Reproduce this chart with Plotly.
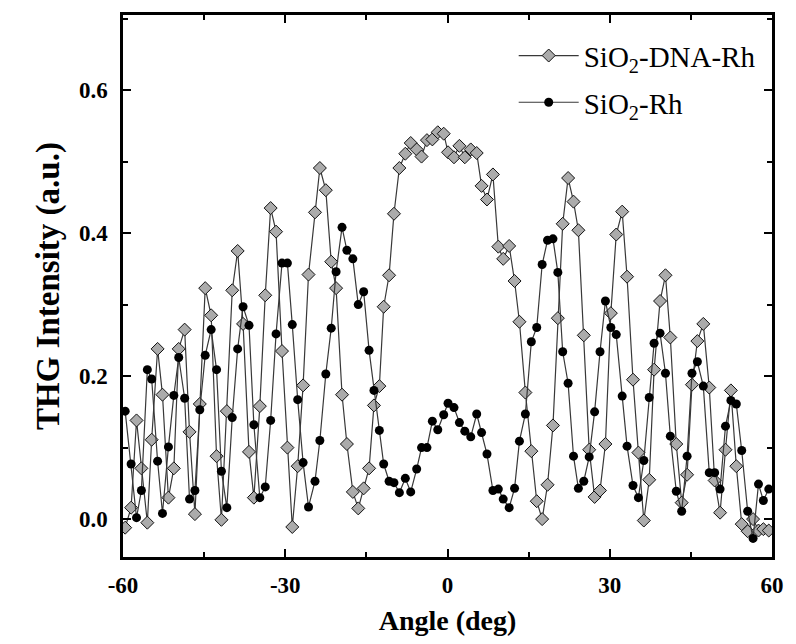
import plotly.graph_objects as go

# Detector angle (deg), shared by both samples
angle = [-59.6, -58.5, -57.5, -56.6, -55.5, -54.7, -53.6, -52.7, -51.6, -50.6,
         -49.7, -48.6, -47.7, -46.7, -45.8, -44.8, -43.7, -42.7, -41.8, -40.8,
         -39.8, -38.8, -37.8, -36.7, -35.8, -34.7, -33.7, -32.7, -31.7, -30.6,
         -29.6, -28.7, -27.7, -26.7, -25.7, -24.5, -23.6, -22.5, -21.5, -20.6,
         -19.5, -18.6, -17.5, -16.5, -15.5, -14.5, -13.6, -12.6, -11.8, -10.8,
         -9.9, -8.9, -7.8, -6.8, -5.7, -4.8, -3.8, -2.8, -1.8, -0.7,
         0.1, 1.2, 2.2, 3.2, 4.3, 5.4, 6.3, 7.3, 8.4, 9.4,
         10.3, 11.4, 12.4, 13.3, 14.4, 15.5, 16.5, 17.5, 18.5, 19.5,
         20.4, 21.3, 22.3, 23.3, 24.2, 25.2, 26.2, 27.2, 28.2, 29.2,
         30.2, 31.2, 32.3, 33.2, 34.3, 35.3, 36.3, 37.3, 38.2, 39.3,
         40.3, 41.2, 42.3, 43.3, 44.3, 45.2, 46.2, 47.3, 48.4, 49.4,
         50.4, 51.4, 52.4, 53.4, 54.4, 55.5, 56.5, 57.5, 58.4, 59.4]

# THG intensity, SiO2-DNA-Rh film
thg_dna = [-0.012, 0.016, 0.138, 0.071, -0.005, 0.111, 0.238, 0.174, 0.030, 0.071,
           0.238, 0.265, 0.122, 0.007, 0.161, 0.323, 0.285, 0.088, -0.001, 0.151,
           0.320, 0.375, 0.273, 0.094, 0.030, 0.158, 0.313, 0.435, 0.402, 0.235,
           0.100, -0.011, 0.074, 0.187, 0.342, 0.429, 0.491, 0.460, 0.360, 0.323,
           0.174, 0.105, 0.038, 0.015, 0.043, 0.071, 0.159, 0.186, 0.297, 0.341,
           0.427, 0.491, 0.511, 0.526, 0.517, 0.507, 0.530, 0.531, 0.541, 0.539,
           0.513, 0.506, 0.522, 0.506, 0.517, 0.512, 0.466, 0.447, 0.482, 0.381,
           0.364, 0.382, 0.333, 0.276, 0.177, 0.095, 0.025, 0.000, 0.048, 0.131,
           0.281, 0.413, 0.477, 0.444, 0.404, 0.257, 0.097, 0.031, 0.040, 0.105,
           0.288, 0.398, 0.430, 0.339, 0.195, 0.093, -0.002, 0.055, 0.209, 0.305,
           0.341, 0.254, 0.105, 0.023, 0.062, 0.188, 0.249, 0.273, 0.184, 0.054,
           0.009, 0.097, 0.180, 0.074, -0.007, -0.017, 0.000, -0.016, -0.014, -0.016]

# THG intensity, SiO2-Rh film
thg_rh = [0.151, 0.077, 0.002, 0.040, 0.209, 0.196, 0.081, 0.008, 0.101, 0.173,
          0.226, 0.169, 0.028, 0.040, 0.153, 0.229, 0.265, 0.209, 0.067, 0.016,
          0.142, 0.238, 0.297, 0.271, 0.132, 0.030, 0.045, 0.138, 0.259, 0.358,
          0.358, 0.272, 0.167, 0.079, 0.017, 0.053, 0.110, 0.203, 0.267, 0.346,
          0.408, 0.376, 0.364, 0.300, 0.318, 0.236, 0.180, 0.124, 0.077, 0.053,
          0.051, 0.037, 0.057, 0.038, 0.070, 0.100, 0.100, 0.137, 0.125, 0.146,
          0.162, 0.156, 0.135, 0.123, 0.115, 0.147, 0.121, 0.091, 0.040, 0.042,
          0.028, 0.016, 0.043, 0.109, 0.147, 0.248, 0.268, 0.356, 0.390, 0.392,
          0.345, 0.234, 0.190, 0.088, 0.043, 0.053, 0.087, 0.150, 0.234, 0.305,
          0.268, 0.258, 0.172, 0.102, 0.047, 0.030, 0.082, 0.170, 0.246, 0.260,
          0.204, 0.116, 0.039, 0.011, 0.088, 0.204, 0.220, 0.186, 0.065, 0.065,
          0.042, 0.130, 0.166, 0.161, 0.096, 0.011, -0.027, 0.049, 0.026, 0.042]

x_ticks = [-60, -30, 0, 30, 60]
y_ticks = [0.0, 0.2, 0.4, 0.6]

serif = "Liberation Serif, Times New Roman, serif"
line_col = "#383838"

fig = go.Figure()
fig.add_trace(go.Scatter(
    x=angle, y=thg_dna, mode="lines+markers", name="SiO<sub>2</sub>-DNA-Rh",
    legendgroup="dna",
    line=dict(color=line_col, width=1.2),
    marker=dict(symbol="diamond", size=10, color="#ababab",
                line=dict(color="#111111", width=1)),
))
fig.add_trace(go.Scatter(
    x=angle, y=thg_rh, mode="lines+markers", name="SiO<sub>2</sub>-Rh",
    legendgroup="rh",
    line=dict(color=line_col, width=1.2),
    marker=dict(symbol="circle", size=9, color="#000000",
                line=dict(color="#000000", width=0)),
))

axis_common = dict(
    showline=True, linecolor="black", linewidth=2.5, mirror="allticks",
    ticks="inside", ticklen=8, tickwidth=2, tickcolor="black",
    showgrid=False, zeroline=False,
    tickfont=dict(family=serif, size=23, color="black", weight="bold"),
)

fig.update_xaxes(
    range=[-60, 60], tickvals=x_ticks, ticktext=[str(v) for v in x_ticks],
    minor=dict(dtick=15, ticks="inside", ticklen=5, tickwidth=2, tickcolor="black"),
    title=dict(text="<b>Angle (deg)</b>", font=dict(family=serif, size=28, color="black"),
               standoff=14),
    ticklabelstandoff=6,
    **axis_common,
)
fig.update_yaxes(
    range=[-0.053, 0.705], tickvals=y_ticks, ticktext=[f"{v:.1f}" for v in y_ticks],
    minor=dict(dtick=0.1, ticks="inside", ticklen=5, tickwidth=2, tickcolor="black"),
    title=dict(text="<b>THG Intensity (a.u.)</b>", font=dict(family=serif, size=33, color="black"),
               standoff=10),
    ticklabelstandoff=8,
    **axis_common,
)

fig.update_layout(
    width=796, height=644,
    margin=dict(l=123, r=14, t=12, b=87),
    paper_bgcolor="white", plot_bgcolor="white",
    showlegend=True,
    legend=dict(
        x=0.602, y=0.972, xanchor="left", yanchor="top",
        bgcolor="rgba(0,0,0,0)", borderwidth=0,
        font=dict(family=serif, size=29, color="black"),
        itemwidth=60, tracegroupgap=6,
    ),
)

fig.write_html("out.html")
